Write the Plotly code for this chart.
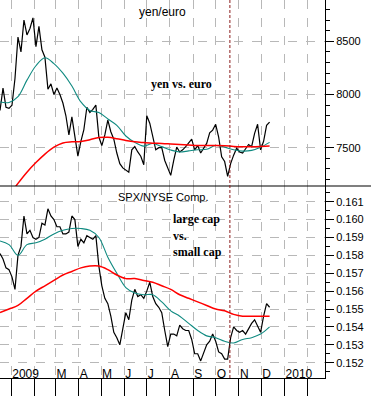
import pandas as pd
import plotly.graph_objects as go

# ---------------- data ----------------
yen_start = "2008-12-17"
yen_values = [7850, 8060, 7880, 7870, 7900, 8150, 8540, 8400, 8700, 8560,
              8620, 8720, 8450, 8640, 8420, 8350, 8050, 8100, 8000, 8060,
              8000, 7920, 7800, 7620, 7790, 7600, 7420, 7560, 7670, 7880,
              7830, 7860, 7900, 7600, 7520, 7620, 7760, 7650, 7580, 7450,
              7350, 7310, 7290, 7270, 7480, 7510, 7460, 7420, 7340, 7800,
              7730, 7600, 7480, 7500, 7500, 7380, 7305, 7240, 7380, 7505,
              7460, 7480, 7510, 7545, 7580, 7480, 7520, 7450, 7490, 7540,
              7640, 7665, 7720, 7600, 7415, 7370, 7230, 7350, 7430, 7495,
              7460, 7450, 7490, 7530, 7510, 7635, 7720, 7480, 7560, 7710,
              7740]
yen_ma_short = [7930, 7925, 7980, 8135, 8270, 8345, 8290, 8200, 8080, 7930,
                7850, 7830, 7770, 7710, 7610, 7550, 7515, 7540, 7510, 7478,
                7460, 7470, 7480, 7485, 7520, 7505, 7480, 7468, 7475, 7505,
                7550]
yen_ma_long = [6950, 7050, 7165, 7270, 7360, 7440, 7505, 7545, 7555, 7558,
               7575, 7595, 7597, 7585, 7568, 7555, 7548, 7542, 7540, 7535,
               7530, 7525, 7520, 7520, 7520, 7518, 7512, 7510, 7510, 7512,
               7515]

spx_values = [0.1581, 0.1578, 0.1573, 0.1572, 0.1568, 0.1561, 0.1580, 0.1585, 0.1602, 0.1592,
              0.1594, 0.1590, 0.1589, 0.1590, 0.1598, 0.1597, 0.1606, 0.1602, 0.1600, 0.1596,
              0.1596, 0.1592, 0.1592, 0.1593, 0.1602, 0.1600, 0.1585, 0.1589, 0.1587, 0.1591,
              0.1590, 0.1589, 0.1591, 0.1574, 0.1563, 0.1556, 0.1553, 0.1546, 0.1537, 0.1534,
              0.1530, 0.1540, 0.1548, 0.1544, 0.1555, 0.1561, 0.1557, 0.1558, 0.1556, 0.1560,
              0.1565, 0.1557, 0.1553, 0.1551, 0.1548, 0.1538, 0.1529, 0.1536, 0.1536, 0.1535,
              0.1541, 0.1539, 0.1538, 0.1538, 0.1533, 0.1525, 0.1525, 0.1521, 0.1526, 0.1530,
              0.1532, 0.1536, 0.1532, 0.1526, 0.1525, 0.1522, 0.1522, 0.1534, 0.1540, 0.1538,
              0.1537, 0.1538, 0.1536, 0.1539, 0.1542, 0.1544, 0.1540, 0.1537, 0.1546, 0.1553,
              0.1551]
spx_ma_short = [0.1588, 0.1586, 0.1580, 0.1586, 0.1587, 0.1589, 0.1592, 0.1594, 0.1595, 0.1595,
                0.1594, 0.1590, 0.1579, 0.1570, 0.1562, 0.1559, 0.1558, 0.1558, 0.1554, 0.1549,
                0.1546, 0.1542, 0.1538, 0.1535, 0.1534, 0.1532, 0.1531, 0.1533, 0.1534, 0.1536,
                0.1540]
spx_ma_long = [0.1548, 0.1550, 0.1552, 0.1556, 0.1560, 0.1563, 0.1566, 0.1569, 0.1571, 0.1573,
               0.1574, 0.1574, 0.1572, 0.1569, 0.1567, 0.1567, 0.1566, 0.1565, 0.1563, 0.1561,
               0.1558, 0.1556, 0.1554, 0.1552, 0.1550, 0.1549, 0.1547, 0.1546, 0.1546, 0.1546,
               0.1546]

month_ticks = pd.date_range("2009-01-01", "2010-02-01", freq="MS")
month_labels = ["2009", "", "M", "A", "M", "J", "J", "A", "S", "O", "N", "D", "2010", ""]
marker_date = "2009-10-20"

daily_dates = pd.date_range(yen_start, periods=len(yen_values), freq="4D")
ma_dates = pd.date_range(yen_start, periods=len(yen_ma_short), freq="12D")

# ---------------- figure ----------------
W, H = 371, 396
ML, MR, MT, MB = 0, 46, 0, 18
PW, PH = W - ML - MR, H - MT - MB
split = 1 - 186 / PH

BLACK = "#000000"
TEAL = "#0f8a80"
RED = "#ff0000"

fig = go.Figure()
fig.add_trace(go.Scatter(x=daily_dates, y=yen_values, mode="lines",
                         line=dict(color=BLACK, width=1.2), xaxis="x", yaxis="y"))
fig.add_trace(go.Scatter(x=ma_dates, y=yen_ma_short, mode="lines", line_shape="spline",
                         line=dict(color=TEAL, width=1.1), xaxis="x", yaxis="y"))
fig.add_trace(go.Scatter(x=ma_dates, y=yen_ma_long, mode="lines", line_shape="spline",
                         line=dict(color=RED, width=1.5), xaxis="x", yaxis="y"))
fig.add_trace(go.Scatter(x=daily_dates, y=spx_values, mode="lines",
                         line=dict(color=BLACK, width=1.2), xaxis="x", yaxis="y2"))
fig.add_trace(go.Scatter(x=ma_dates, y=spx_ma_short, mode="lines", line_shape="spline",
                         line=dict(color=TEAL, width=1.1), xaxis="x", yaxis="y2"))
fig.add_trace(go.Scatter(x=ma_dates, y=spx_ma_long, mode="lines", line_shape="spline",
                         line=dict(color=RED, width=1.5), xaxis="x", yaxis="y2"))

grid = dict(showgrid=True, gridcolor="#b8b8b8", griddash="dash", gridwidth=1)
tickfont = dict(family="Liberation Sans, Arial, sans-serif", size=11, color="black")

fig.update_layout(
    template="none",
    width=W, height=H,
    margin=dict(l=ML, r=MR, t=MT, b=MB, pad=0),
    paper_bgcolor="white", plot_bgcolor="white",
    showlegend=False,
    hovermode=False,
    xaxis=dict(type="date", range=["2008-12-17", "2010-02-24"], anchor="y2",
               automargin=False,
               tickmode="array", tickvals=month_ticks, ticktext=month_labels,
               tickangle=0,
               ticks="outside", ticklen=17, tickcolor="black", tickwidth=1,
               ticklabelposition="outside right", ticklabelstandoff=-15,
               tickfont=dict(family="Liberation Sans, Arial, sans-serif", size=12, color="black"),
               showline=True, linecolor="black", linewidth=1, zeroline=False, **grid),
    yaxis=dict(domain=[split, 1], range=[7140, 8888], side="right", anchor="x",
               automargin=False,
               tick0=7500, dtick=500, ticks="outside", ticklen=8, tickcolor="black",
               tickfont=tickfont, showline=True, linecolor="black", linewidth=1,
               zeroline=False,
               minor=dict(dtick=100, tick0=7500, ticks="outside", ticklen=4,
                          tickcolor="black", showgrid=False),
               **grid),
    yaxis2=dict(domain=[0, split], range=[0.151145, 0.161877], side="right", anchor="x",
                automargin=False,
                tick0=0.152, dtick=0.001, tickformat=".3f", ticks="outside", ticklen=8,
                tickcolor="black", tickfont=tickfont, showline=True, linecolor="black",
                linewidth=1, zeroline=False,
                minor=dict(dtick=0.0005, ticks="outside", ticklen=4,
                           tickcolor="black", showgrid=False),
                **grid),
)

# separator between the panels, extending across the axis area
fig.add_shape(type="line", xref="paper", yref="paper", x0=0, x1=W / PW,
              y0=split, y1=split, line=dict(color="black", width=1.2))
# marker line
fig.add_shape(type="line", xref="x", yref="paper", x0=marker_date, x1=marker_date,
              y0=0, y1=1, line=dict(color="#8b1a1a", width=1, dash="3px,2px"))

def px2paper(xp, yp):
    return xp / PW, 1 - yp / PH

sans = "Liberation Sans, Arial, sans-serif"
serif = "Liberation Serif, Times New Roman, serif"
notes = [
    ("yen/euro", 162, 12, "center", sans, 12),
    ("SPX/NYSE Comp.", 163, 197, "center", sans, 11),
    ("<b>yen vs. euro</b>", 181, 84, "center", serif, 12),
    ("<b>large cap</b>", 171, 219, "left", serif, 12),
    ("<b>vs.</b>", 171, 236, "left", serif, 12),
    ("<b>small cap</b>", 171, 252, "left", serif, 12),
]
for text, xp, yp, anchor, fam, size in notes:
    xx, yy = px2paper(xp, yp)
    fig.add_annotation(text=text, x=xx, y=yy, xref="paper", yref="paper",
                       xanchor=anchor, yanchor="middle", showarrow=False,
                       font=dict(family=fam, size=size, color="black"))

fig.write_html("out.html",
               config={"displayModeBar": False, "staticPlot": True},
               post_script="document.body.style.margin='0';document.body.style.padding='0';"
                           "document.documentElement.style.overflow='hidden';")
